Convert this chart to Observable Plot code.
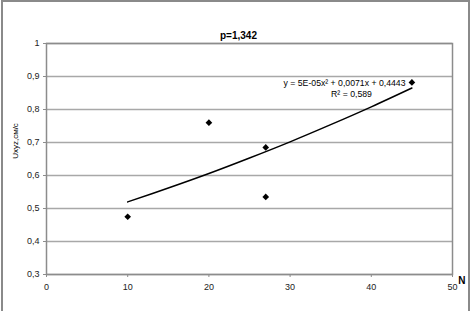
<!DOCTYPE html>
<html>
<head>
<meta charset="utf-8">
<script src="https://cdn.jsdelivr.net/npm/d3@7"></script>
<script src="https://cdn.jsdelivr.net/npm/@observablehq/plot@0.6"></script>
<style>
  body { margin: 0; background: #fff; }
  #wrap { position: relative; width: 471px; height: 311px; overflow: hidden; }
  #border { position: absolute; left: 1px; top: 0px; width: 469px; height: 330px; border: 2px solid #8a8a8a; box-sizing: border-box; pointer-events: none; }
  svg { font-family: "Liberation Sans", Arial, sans-serif; }
</style>
</head>
<body>
<div id="wrap"><div id="border"></div></div>
<script>
const title = "p=1,342";
const yLabel = "Uxyz,см/с";
const xLabel = "N";
const equation = "y = 5E-05x² + 0,0071x + 0,4443";
const rSquared = "R² = 0,589";

const pointN = [10, 20, 27, 27, 45];
const pointU = [0.475, 0.76, 0.685, 0.535, 0.882];

const trendN = [10, 15, 20, 25, 30, 35, 40, 45];
const trendU = [0.520, 0.562, 0.606, 0.653, 0.702, 0.754, 0.808, 0.865];

const xTicks = [0, 10, 20, 30, 40, 50];
const yTicks = [0.3, 0.4, 0.5, 0.6, 0.7, 0.8, 0.9, 1];

const points = pointN.map((n, i) => ({n, u: pointU[i]}));
const trend = trendN.map((n, i) => ({n, u: trendU[i]}));
const fmt = d => String(+d.toFixed(1)).replace(".", ",");

const chart = Plot.plot({
  width: 471,
  height: 311,
  marginLeft: 46,
  marginRight: 19,
  marginTop: 43,
  marginBottom: 37,
  style: {fontFamily: "'Liberation Sans', Arial, sans-serif", fontSize: "9px", color: "#222", background: "transparent"},
  x: {domain: [0, 50]},
  y: {domain: [0.3, 1]},
  marks: [
    Plot.ruleY(yTicks, {stroke: "#a8a8a8", strokeWidth: 1.5}),
    Plot.frame({stroke: "#8c8c8c", strokeWidth: 1.5}),
    Plot.axisY({ticks: yTicks, tickFormat: fmt, tickSize: 3, tickPadding: 4, stroke: "#8c8c8c", label: null}),
    Plot.axisX({ticks: xTicks, tickFormat: d => String(d), tickSize: 3, tickPadding: 6, stroke: "#8c8c8c", label: null}),
    Plot.line(trend, {x: "n", y: "u", stroke: "#000", strokeWidth: 1.5, curve: "catmull-rom"}),
    Plot.dot(points, {x: "n", y: "u", symbol: "diamond2", r: 3, fill: "#000", stroke: "none"}),
    Plot.text([title], {frameAnchor: "top", dx: -11, dy: -12, fontWeight: "bold", fontSize: 10, fill: "#000"}),
    Plot.text([yLabel], {frameAnchor: "left", textAnchor: "middle", dx: -31, dy: -18, rotate: -90, fontSize: 8, fill: "#000"}),
    Plot.text([xLabel], {frameAnchor: "bottom-right", dx: 13, dy: 9, fontWeight: "bold", fontSize: 10, fill: "#000"}),
    Plot.text([equation], {frameAnchor: "top-right", textAnchor: "end", dx: -47, dy: 36, fontSize: 8.7, fill: "#000"}),
    Plot.text([rSquared], {frameAnchor: "top-right", textAnchor: "middle", dx: -101, dy: 47, fontSize: 8.7, fill: "#000"})
  ]
});
document.getElementById("wrap").prepend(chart);
</script>
</body>
</html>
